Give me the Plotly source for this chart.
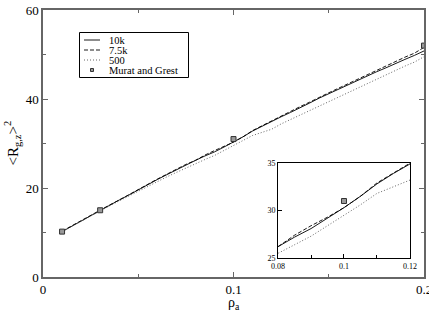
import plotly.graph_objects as go

rho = [0.01, 0.015, 0.02, 0.025, 0.03, 0.035, 0.04, 0.045, 0.05, 0.055,
       0.06, 0.065, 0.07, 0.075, 0.08, 0.085, 0.09, 0.095, 0.10, 0.105,
       0.11, 0.115, 0.12, 0.125, 0.13, 0.135, 0.14, 0.145, 0.15, 0.155,
       0.16, 0.165, 0.17, 0.175, 0.18, 0.185, 0.19, 0.195, 0.20]
rg_10k = [10.2, 11.4, 12.6, 13.8, 15.0, 16.2, 17.3, 18.4, 19.6, 20.8,
          21.9, 23.0, 24.1, 25.2, 26.2, 27.2, 28.1, 29.2, 30.3, 31.5,
          32.8, 33.9, 35.0, 36.0, 37.0, 38.0, 39.1, 40.2, 41.2, 42.2,
          43.2, 44.2, 45.2, 46.1, 47.0, 48.0, 48.9, 49.8, 50.8]
rg_7k5 = [10.3, 11.5, 12.7, 13.9, 15.1, 16.2, 17.3, 18.5, 19.7, 20.8,
          22.0, 23.1, 24.2, 25.3, 26.2, 27.4, 28.4, 29.3, 30.3, 31.5,
          32.9, 34.0, 35.1, 36.2, 37.2, 38.3, 39.3, 40.4, 41.4, 42.4,
          43.4, 44.5, 45.5, 46.5, 47.4, 48.4, 49.4, 50.3, 51.6]
rg_500 = [10.2, 11.3, 12.5, 13.7, 14.9, 16.0, 17.1, 18.2, 19.3, 20.4,
          21.5, 22.5, 23.5, 24.5, 25.5, 26.4, 27.3, 28.4, 29.5, 30.6,
          31.8, 32.5, 33.2, 34.4, 35.4, 36.5, 37.5, 38.5, 39.5, 40.5,
          41.5, 42.5, 43.4, 44.4, 45.4, 46.4, 47.4, 48.3, 49.5]
mg_rho = [0.01, 0.03, 0.10, 0.20]
mg_rg = [10.2, 15.0, 31.0, 52.0]

series_names = ["10k", "7.5k", "500", "Murat and Grest"]

FONT = "Liberation Serif"
DOT = "1px,2px"
fig = go.Figure()

for xa, ya in [("x", "y"), ("x2", "y2")]:
    fig.add_trace(go.Scatter(x=rho, y=rg_10k, mode="lines", xaxis=xa, yaxis=ya,
                             line=dict(color="black", width=0.9), showlegend=False))
    fig.add_trace(go.Scatter(x=rho, y=rg_7k5, mode="lines", xaxis=xa, yaxis=ya,
                             line=dict(color="black", width=0.9, dash="4px,2px"), showlegend=False))
    fig.add_trace(go.Scatter(x=rho, y=rg_500, mode="lines", xaxis=xa, yaxis=ya,
                             line=dict(color="#555555", width=0.9, dash=DOT), showlegend=False))
    fig.add_trace(go.Scatter(x=mg_rho, y=mg_rg, mode="markers", xaxis=xa, yaxis=ya,
                             marker=dict(symbol="square", size=5, color="#999999",
                                         line=dict(color="#333333", width=1)),
                             cliponaxis=True, showlegend=False))

# manual legend
def px2paper(px, py):
    return (px - 43) / 381, (277 - py) / 267

x0, y0 = px2paper(79.5, 32.5)
x1, y1 = px2paper(188.5, 77.5)
shapes = [dict(type="rect", xref="paper", yref="paper", x0=x0, x1=x1, y0=y1, y1=y0,
               line=dict(color="black", width=1), fillcolor="white")]
rows = [40, 50, 60, 70]
styles = [("black", "solid"), ("black", "4px,2px"), ("#555555", DOT)]
annotations = []
for i, name in enumerate(series_names):
    ax0, ay = px2paper(84, rows[i])
    ax1, _ = px2paper(100, rows[i])
    if i < 3:
        shapes.append(dict(type="line", xref="paper", yref="paper", x0=ax0, x1=ax1, y0=ay, y1=ay,
                           line=dict(color=styles[i][0], width=0.9, dash=styles[i][1])))
    else:
        mx0, my0 = px2paper(90.5, rows[i] - 1.5)
        mx1, my1 = px2paper(93.5, rows[i] + 1.5)
        shapes.append(dict(type="rect", xref="paper", yref="paper", x0=mx0, x1=mx1, y0=my1, y1=my0,
                           line=dict(color="#333333", width=1), fillcolor="#999999"))
    tx, _ = px2paper(107, rows[i])
    annotations.append(dict(x=tx, y=ay, xref="paper", yref="paper", text=name, showarrow=False,
                            xanchor="left", yanchor="middle",
                            font=dict(family=FONT, size=10.5, color="black")))

# axis titles as annotations for exact placement
annotations.append(dict(x=0.5, y=-0.06, xref="paper", yref="paper", text="ρ<sub>a</sub>",
                        showarrow=False, xanchor="center", yanchor="top",
                        font=dict(family=FONT, size=14, color="black")))
annotations.append(dict(x=(12 - 43) / 381, y=0.5, xref="paper", yref="paper",
                        text="&lt;R<sub>g,z</sub>&gt;<sup>2</sup>", textangle=-90,
                        showarrow=False, xanchor="center", yanchor="middle",
                        font=dict(family=FONT, size=15, color="black")))

fig.update_layout(
    width=429, height=311,
    margin=dict(l=43, r=5, t=10, b=34, autoexpand=False),
    paper_bgcolor="white", plot_bgcolor="white",
    font=dict(family=FONT, color="black"),
    showlegend=False,
    shapes=shapes,
    annotations=annotations,
    xaxis=dict(range=[0, 0.2], domain=[0, 1], tickvals=[0, 0.1, 0.2], ticktext=["0", "0.1", "0.2"],
               automargin=False, ticklabeloverflow="allow",
               ticks="inside", ticklen=5, tickcolor="#666666", showline=True, linecolor="#666666",
               linewidth=1.5, mirror="ticks", showgrid=False, zeroline=False,
               tickfont=dict(family=FONT, size=13, color="black"),
               minor=dict(tickvals=[0.05, 0.15], ticks="inside", ticklen=3, tickcolor="#666666")),
    yaxis=dict(range=[0, 60], domain=[0, 1], tickvals=[0, 20, 40, 60], automargin=False,
               ticklabeloverflow="allow",
               ticks="inside", ticklen=5, tickcolor="#666666", showline=True, linecolor="#666666",
               linewidth=1.5, mirror="ticks", showgrid=False, zeroline=False,
               tickfont=dict(family=FONT, size=13, color="black"),
               minor=dict(tickvals=[10, 30, 50], ticks="inside", ticklen=3, tickcolor="#666666")),
    xaxis2=dict(range=[0.08, 0.12], domain=[0.617, 0.963], anchor="y2", automargin=False,
                tickvals=[0.08, 0.1, 0.12], ticktext=["0.08", "0.1", "0.12"],
                ticks="inside", ticklen=4, tickcolor="black", showline=True, linecolor="black",
                linewidth=1, mirror=True, showgrid=False, zeroline=False,
                tickfont=dict(family=FONT, size=8, color="black"),
                minor=dict(tickvals=[0.09, 0.11], ticks="inside", ticklen=3, tickcolor="black")),
    yaxis2=dict(range=[25, 35], domain=[0.071, 0.427], anchor="x2", automargin=False,
                tickvals=[25, 30, 35], ticks="inside", ticklen=4, tickcolor="black",
                showline=True, linecolor="black", linewidth=1, mirror=True,
                showgrid=False, zeroline=False, tickfont=dict(family=FONT, size=8, color="black")),
)

fig.write_html("out.html")
